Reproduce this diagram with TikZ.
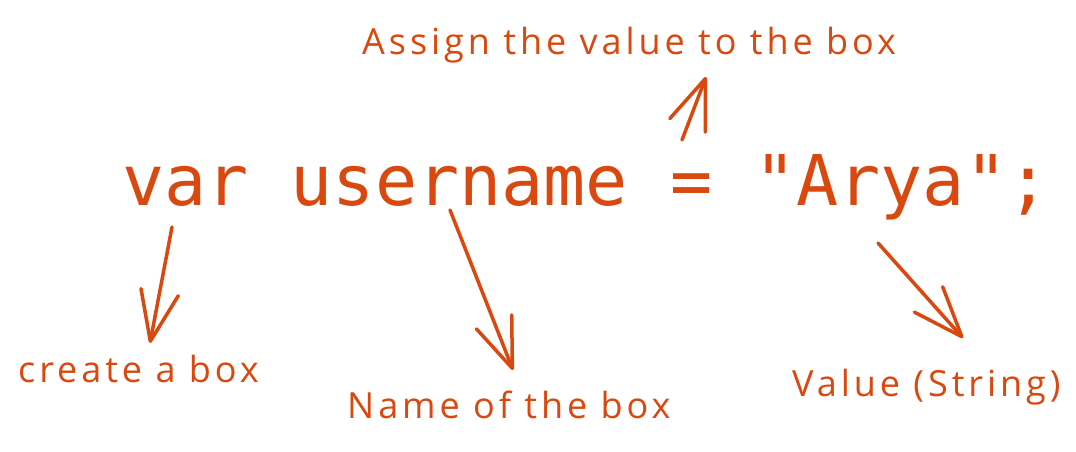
\documentclass[tikz,border=0pt]{standalone}
\usepackage{fontspec}
\setmainfont{Open Sans}[LetterSpace=11]
\setmonofont{DejaVu Sans Mono}
\usetikzlibrary{arrows.meta}
\definecolor{my_orange}{HTML}{D9480F}

\begin{document}
\begin{tikzpicture}[
    x=1pt, y=-1pt,
    code/.style={anchor=base west, inner sep=0pt, text=my_orange,
        font=\ttfamily\fontsize{70}{80}\selectfont},
    note/.style={anchor=base west, inner sep=0pt, text=my_orange,
        font=\fontsize{36}{40}\selectfont},
    pfeil/.style={draw=my_orange, line width=3.5pt, line cap=round,
        -{Straight Barb[length=50pt, width=38pt, round]}}
]
\useasboundingbox (0, 0) rectangle (1076, 452);

% ===== Codezeile =====
\node[code] (zeile) at (122, 205) {var username = "Arya";};

% ===== Beschriftungen =====
\node[note] (zuweisen) at (362, 55) {Assign the value to the box};
\node[note] (box)      at (18, 382) {create a box};
\node[note] (name)     at (347, 418) {Name of the box};
\node[note] (wert)     at (792, 396) {Value (String)};

% Pfeilenden
\coordinate (var-a)   at (172, 227);
\coordinate (var-b)   at (150, 343);
\coordinate (name-a)  at (450, 210);
\coordinate (name-b)  at (513, 370);
\coordinate (wert-a)  at (878, 243);
\coordinate (wert-b)  at (963, 338);
\coordinate (zuw-a)   at (682, 140);
\coordinate (zuw-b)   at (706, 77);

% ===== Pfeile =====
\draw[pfeil] (var-a) -- (var-b);
\draw[pfeil] (name-a) -- (name-b);
\draw[pfeil] (wert-a) -- (wert-b);
\draw[pfeil] (zuw-a) -- (zuw-b);

\end{tikzpicture}
\end{document}
